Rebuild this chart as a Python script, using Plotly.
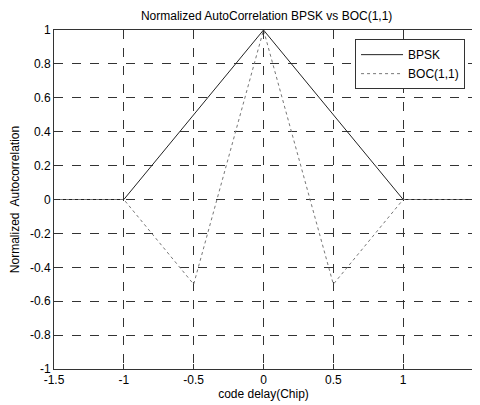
import plotly.graph_objects as go

bpsk_x = [-1.5, -1.0, 0.0, 1.0, 1.5]
bpsk_y = [0.0, 0.0, 1.0, 0.0, 0.0]
boc_x = [-1.5, -1.0, -0.5, 0.0, 0.5, 1.0, 1.5]
boc_y = [0.0, 0.0, -0.5, 1.0, -0.5, 0.0, 0.0]
x_ticks = [-1.5, -1, -0.5, 0, 0.5, 1, 1.5]
x_labels = ["-1.5", "-1", "-0.5", "0", "0.5", "1", "1.5"]
y_ticks = [-1, -0.8, -0.6, -0.4, -0.2, 0, 0.2, 0.4, 0.6, 0.8, 1]
y_labels = ["-1", "-0.8", "-0.6", "-0.4", "-0.2", "0", "0.2", "0.4", "0.6", "0.8", "1"]

font = "Liberation Sans, Arial, sans-serif"

fig = go.Figure()
fig.add_trace(go.Scatter(x=bpsk_x, y=bpsk_y, mode="lines", name="BPSK",
                         line=dict(color="#222222", width=1)))
fig.add_trace(go.Scatter(x=boc_x, y=boc_y, mode="lines", name="BOC(1,1)",
                         line=dict(color="#777777", width=1, dash="dot")))

axis_common = dict(
    showline=True, linecolor="#333333", linewidth=1, mirror="ticks",
    ticks="inside", ticklen=5, tickcolor="#333333",
    showgrid=True, gridcolor="#333333", gridwidth=1, griddash="dash",
    zeroline=False, tickfont=dict(family=font, size=12, color="black"),
    automargin=False,
)

fig.update_xaxes(range=[-1.5, 1.5], tickvals=x_ticks, ticktext=x_labels,
                 title=dict(text="code delay(Chip)", font=dict(family=font, size=12, color="black"), standoff=0),
                 **axis_common)
fig.update_yaxes(range=[-1, 1], tickvals=y_ticks, ticktext=y_labels,
                 title=dict(text="Normalized  Autocorrelation", font=dict(family=font, size=12, color="black"), standoff=9),
                 **axis_common)

# page body has an 8px margin, so the figure is sized to fit the 480x405 window
fig.update_layout(
    width=472, height=397,
    margin=dict(l=46, r=7, t=22, b=36, autoexpand=False),
    plot_bgcolor="white", paper_bgcolor="white",
    title=dict(text="Normalized AutoCorrelation BPSK vs BOC(1,1)", x=0.548, xanchor="center",
               y=0.981, yanchor="middle",
               font=dict(family=font, size=12, color="black")),
    legend=dict(x=0.981, y=0.973, xanchor="right", yanchor="top",
                bgcolor="white", bordercolor="#333333", borderwidth=1,
                font=dict(family=font, size=12, color="black"),
                tracegroupgap=0, itemwidth=42),
    showlegend=True,
)

fig.write_html("out.html")
